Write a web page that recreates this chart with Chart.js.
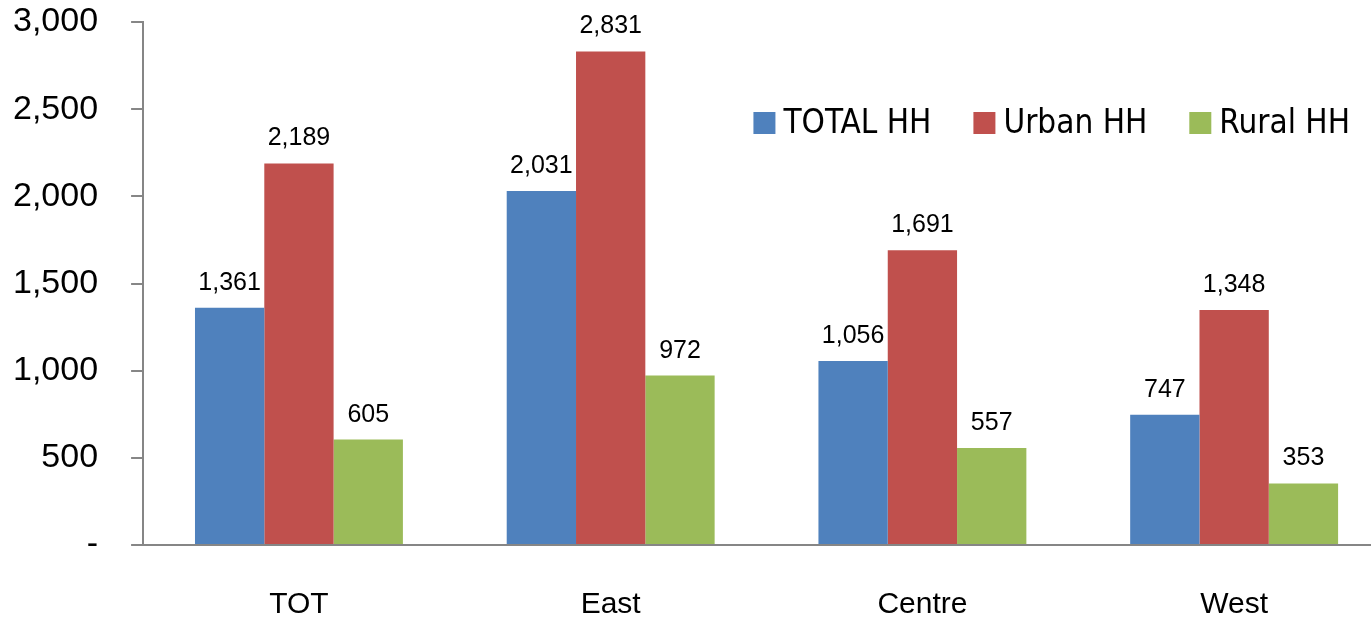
<!DOCTYPE html>
<html><head><meta charset="utf-8">
<script src="https://cdn.jsdelivr.net/npm/chart.js@4"></script>
<style>html,body{margin:0;padding:0;background:#fff;overflow:hidden;width:1371px;height:622px}canvas{display:block}</style>
</head><body><canvas id="c" width="1390" height="622"></canvas>
<script>
const categories = ["TOT", "East", "Centre", "West"];
const totalHH = [1361, 2031, 1056, 747];
const urbanHH = [2189, 2831, 1691, 1348];
const ruralHH = [605, 972, 557, 353];
const yTicks = [0, 500, 1000, 1500, 2000, 2500, 3000];

const fmt = v => v === 0 ? '-' : v.toLocaleString('en-US');

const valueLabels = {
  id: 'valueLabels',
  afterDatasetsDraw(chart) {
    const ctx = chart.ctx;
    ctx.save();
    ctx.font = '25px "Liberation Sans", Arial, sans-serif';
    ctx.fillStyle = '#000';
    ctx.textAlign = 'center';
    ctx.textBaseline = 'alphabetic';
    chart.data.datasets.forEach((ds, i) => {
      chart.getDatasetMeta(i).data.forEach((el, j) => {
        ctx.fillText(fmt(ds.data[j]), el.x, el.y - 18);
      });
    });
    ctx.restore();
  }
};

// legend drawn inside the plot area, top right
const insideLegend = {
  id: 'insideLegend',
  afterDraw(chart) {
    const ctx = chart.ctx;
    const area = chart.chartArea;
    ctx.save();
    ctx.font = '33px "Liberation Sans Narrow", "DejaVu Sans Condensed", sans-serif';
    ctx.textBaseline = 'middle';
    ctx.textAlign = 'left';
    const box = 22, gapText = 8, gapItem = 42;
    const items = chart.data.datasets.map(ds => ({label: ds.label, color: ds.backgroundColor, w: ctx.measureText(ds.label).width}));
    const total = items.reduce((s, it) => s + box + gapText + it.w, 0) + gapItem * (items.length - 1);
    let x = area.right - 40 - total;
    const yc = area.top + 101;
    items.forEach(it => {
      ctx.fillStyle = it.color;
      ctx.fillRect(x, yc - box / 2, box, box);
      ctx.fillStyle = '#000';
      ctx.fillText(it.label, x + box + gapText, yc + 1);
      x += box + gapText + it.w + gapItem;
    });
    ctx.restore();
  }
};

new Chart(document.getElementById('c'), {
  type: 'bar',
  data: {
    labels: categories,
    datasets: [
      {label: 'TOTAL HH', data: totalHH, backgroundColor: '#4f81bd'},
      {label: 'Urban HH', data: urbanHH, backgroundColor: '#c0504d'},
      {label: 'Rural HH', data: ruralHH, backgroundColor: '#9bbb59'}
    ]
  },
  options: {
    responsive: false,
    animation: false,
    layout: {padding: {top: 0, left: 13, right: 0, bottom: 0}},
    datasets: {bar: {categoryPercentage: 0.667, barPercentage: 1.0}},
    plugins: {
      tooltip: {enabled: false},
      legend: {display: false}
    },
    scales: {
      x: {
        grid: {display: false, drawTicks: false},
        border: {display: true, color: '#868686', width: 2},
        ticks: {color: '#000', padding: 42, font: {family: '"Liberation Sans", Arial, sans-serif', size: 30}},
        afterFit: s => { s.height = 77; }
      },
      y: {
        min: 0, max: 3000,
        afterBuildTicks: axis => { axis.ticks = yTicks.map(v => ({value: v})); },
        grid: {drawOnChartArea: false, drawTicks: true, tickLength: 12, color: '#868686', lineWidth: 2},
        border: {display: true, color: '#868686', width: 2},
        ticks: {color: '#000', padding: 33, callback: v => fmt(v), font: {family: '"Liberation Sans", Arial, sans-serif', size: 34}},
        afterFit: s => { s.width -= 33; s.paddingTop = 22; s.paddingBottom = 20; }
      }
    }
  },
  plugins: [valueLabels, insideLegend]
});
</script></body></html>
